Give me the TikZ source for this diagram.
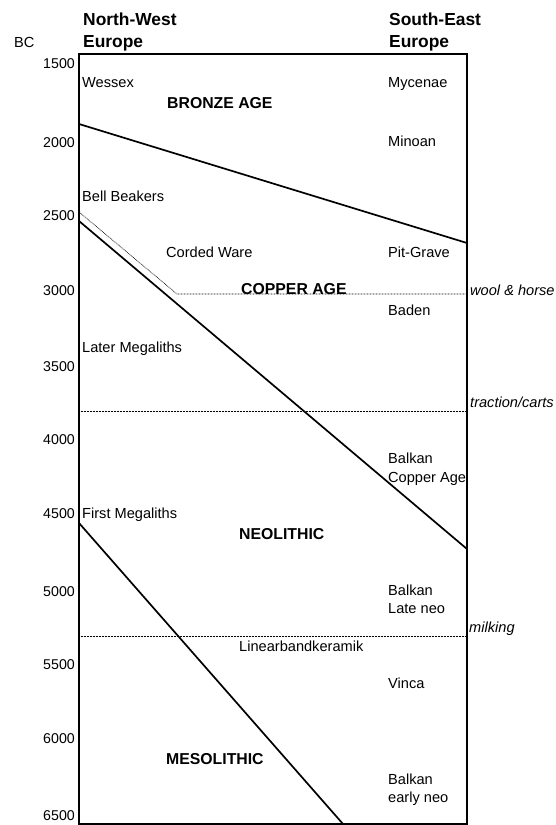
\documentclass[tikz,border=0pt]{standalone}
\usepackage{fontspec}
\setmainfont{Liberation Sans}
\begin{document}
\begin{tikzpicture}[x=1pt,y=-1pt,
  lab/.style={anchor=base west, inner sep=0pt, font=\fontsize{14.6}{16}\selectfont},
  age/.style={anchor=base west, inner sep=0pt, font=\fontsize{15.8}{17}\selectfont\bfseries},
  head/.style={anchor=base west, inner sep=0pt, font=\fontsize{17.4}{19}\selectfont\bfseries},
  tick/.style={anchor=base east, inner sep=0pt, font=\fontsize{14.2}{16}\selectfont},
  note/.style={anchor=base west, inner sep=0pt, font=\fontsize{14.6}{16}\selectfont\itshape},
  frameh/.style={line width=1.7pt},
  framev/.style={line width=2.7pt},
  era/.style={line width=1.7pt},
  dotline/.style={line width=0.7pt, dash pattern=on 0.7pt off 0.8pt}]
\useasboundingbox (0,0) rectangle (555,825);
% frame corners
\coordinate (tl) at (79,54);
\coordinate (tr) at (467,54);
\coordinate (bl) at (79,824);
\coordinate (br) at (467,824);
\draw[frameh] (bl) -- (tl) -- (tr) -- (br) -- cycle;
\draw[framev] (tl) -- (bl);
\draw[framev] (tr) -- (br);
% era boundaries
\coordinate (b1) at (79,124);
\coordinate (b2) at (467,243);
\coordinate (c1) at (79,221);
\coordinate (c2) at (467,549);
\coordinate (m1) at (79,523);
\coordinate (m2) at (343,824);
\draw[era] (b1) -- (b2);
\draw[era] (c1) -- (c2);
\draw[era] (m1) -- (m2);
% dotted lines
\coordinate (bb1) at (79,212);
\coordinate (bb2) at (177,294);
\coordinate (w2) at (467,294);
\coordinate (t1) at (79,411);
\coordinate (t2) at (467,411);
\coordinate (k1) at (79,636);
\coordinate (k2) at (467,636);
\draw[dotline] (bb1) -- (bb2) -- (w2);
\draw[dotline] (t1) -- (t2);
\draw[dotline] (k1) -- (k2);
% headers
\node[lab] (bc) at (14,47) {BC};
\node[head] (nw1) at (83,25) {North-West};
\node[head] (nw2) at (83,47) {Europe};
\node[head] (se1) at (389,25) {South-East};
\node[head] (se2) at (389,47) {Europe};
% ticks
\node[tick] (y1500) at (75,68) {1500};
\node[tick] (y2000) at (75,147) {2000};
\node[tick] (y2500) at (75,220) {2500};
\node[tick] (y3000) at (75,295) {3000};
\node[tick] (y3500) at (75,371) {3500};
\node[tick] (y4000) at (75,444) {4000};
\node[tick] (y4500) at (75,518) {4500};
\node[tick] (y5000) at (75,596) {5000};
\node[tick] (y5500) at (75,669) {5500};
\node[tick] (y6000) at (75,743) {6000};
\node[tick] (y6500) at (75,820) {6500};
% north-west labels
\node[lab] (wessex) at (82,87) {Wessex};
\node[lab] (bell) at (82,201) {Bell Beakers};
\node[lab] (corded) at (166,257) {Corded Ware};
\node[lab] (later) at (82,352) {Later Megaliths};
\node[lab] (first) at (82,518) {First Megaliths};
\node[lab] (lbk) at (239,651) {Linearbandkeramik};
% ages
\node[age] (bronze) at (167,108) {BRONZE AGE};
\node[age] (copper) at (241,294) {COPPER AGE};
\node[age] (neo) at (239,539) {NEOLITHIC};
\node[age] (meso) at (166,764) {MESOLITHIC};
% south-east labels
\node[lab] (myc) at (388,87) {Mycenae};
\node[lab] (minoan) at (388,146) {Minoan};
\node[lab] (pit) at (388,257) {Pit-Grave};
\node[lab] (baden) at (388,315) {Baden};
\node[lab] (bca1) at (388,463) {Balkan};
\node[lab] (bca2) at (388,482) {Copper Age};
\node[lab] (bln1) at (388,595) {Balkan};
\node[lab] (bln2) at (388,613) {Late neo};
\node[lab] (vinca) at (388,688) {Vinca};
\node[lab] (ben1) at (388,784) {Balkan};
\node[lab] (ben2) at (388,802) {early neo};
% notes
\node[note] (wool) at (470,295) {wool \& horse};
\node[note] (traction) at (470,407) {traction/carts};
\node[note] (milk) at (469,632) {milking};
\end{tikzpicture}
\end{document}
